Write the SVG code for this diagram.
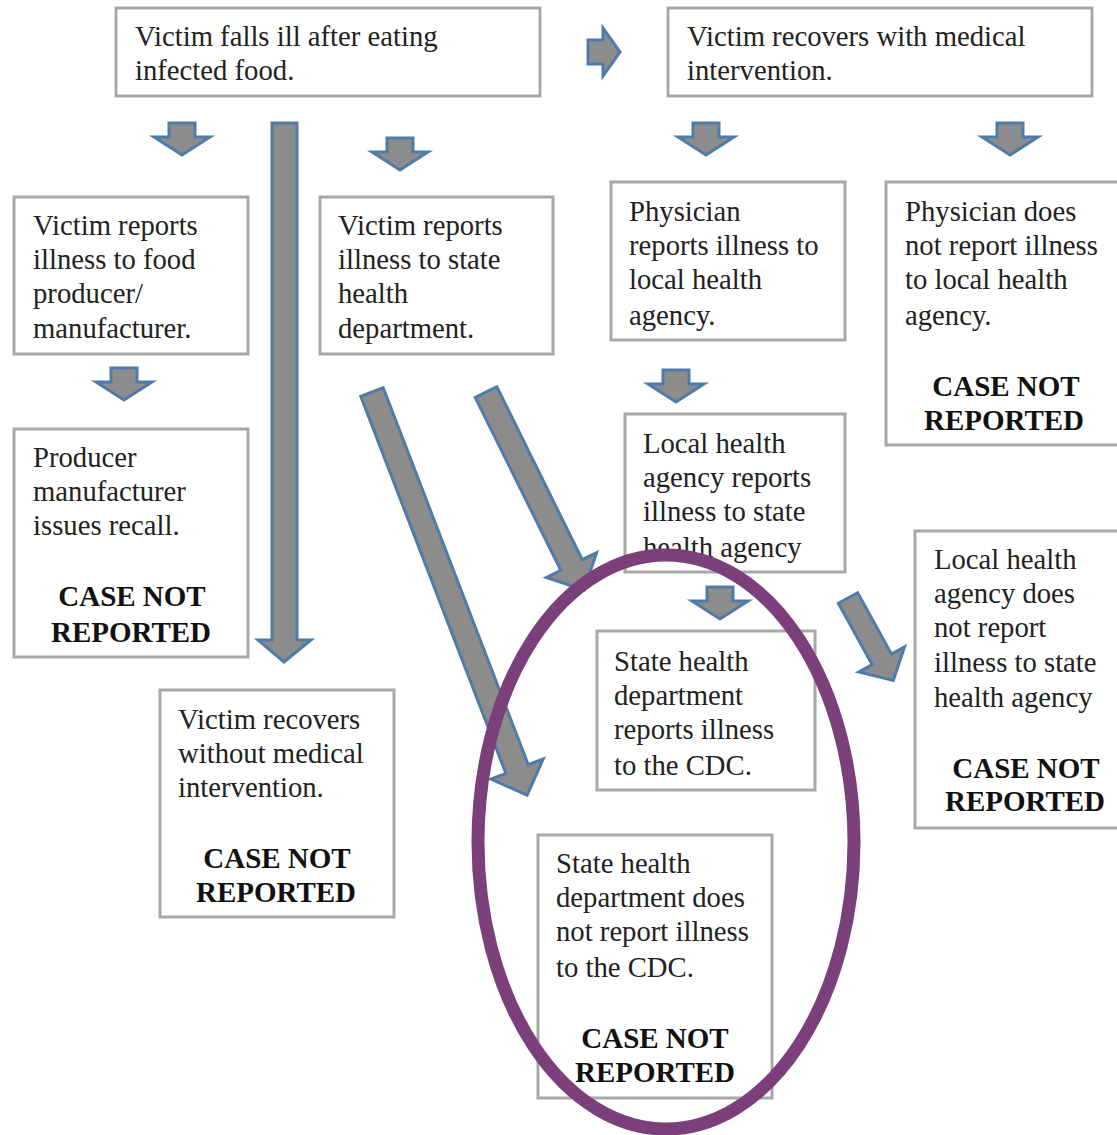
<svg xmlns="http://www.w3.org/2000/svg" width="1117" height="1135" viewBox="0 0 1117 1135">
<style>
.box{fill:#fff;stroke:#a8a8a8;stroke-width:3}
.t{font-family:'Liberation Serif','DejaVu Serif',serif;font-size:28.7px;fill:#222}
.b{font-family:'Liberation Serif','DejaVu Serif',serif;font-size:29px;font-weight:bold;fill:#111;text-anchor:middle}
.arr{fill:#8c8c8c;stroke:#4f7ba8;stroke-width:3;stroke-linejoin:miter}
.ring{fill:none;stroke:#7b3f7a;stroke-width:13}
</style>
<defs>
<path id="dn" d="M-13,0 H13 V14 H28 L0,32 L-28,14 H-13 Z"/>
</defs>
<rect width="1117" height="1135" fill="#fff"/>
<g id="connectors">
<use href="#dn" class="arr" x="182" y="123"/>
<use href="#dn" class="arr" x="400" y="138"/>
<use href="#dn" class="arr" x="706" y="123"/>
<use href="#dn" class="arr" x="1010" y="123"/>
<use href="#dn" class="arr" x="124" y="368"/>
<use href="#dn" class="arr" x="676" y="370"/>
<use href="#dn" class="arr" x="720" y="587"/>
<path class="arr" d="M588,40 H603 V28 L620,52 L603,76 V64 H588 Z"/>
<path class="arr" d="M272,123 H297 V640 H311 L284,662 L258,640 H272 Z"/>
<path class="arr" transform="translate(372,392) rotate(68.96)" d="M0,-12 H404 V-28 L432,0 L404,28 V12 H0 Z"/>
<path class="arr" transform="translate(486,392) rotate(63.7)" d="M0,-12 H193 V-28 L221,0 L193,28 V12 H0 Z"/>
<path class="arr" transform="translate(848,598) rotate(61.2)" d="M0,-11 H70 V-26 L94,0 L70,26 V11 H0 Z"/>
</g>
<g id="n1"><rect class="box" x="116" y="8" width="424" height="88"/>
<text class="t" x="135" y="46">Victim falls ill after eating</text><text class="t" x="135" y="80">infected food.</text></g>
<g id="n2"><rect class="box" x="668" y="8" width="424" height="88"/>
<text class="t" x="687" y="46">Victim recovers with medical</text><text class="t" x="687" y="80">intervention.</text></g>
<g id="n3"><rect class="box" x="14" y="197" width="234" height="157"/>
<text class="t" x="33" y="235">Victim reports</text><text class="t" x="33" y="269">illness to food</text><text class="t" x="33" y="303">producer/</text><text class="t" x="33" y="338">manufacturer.</text></g>
<g id="n4"><rect class="box" x="320" y="197" width="233" height="157"/>
<text class="t" x="338" y="235">Victim reports</text><text class="t" x="338" y="269">illness to state</text><text class="t" x="338" y="303">health</text><text class="t" x="338" y="338">department.</text></g>
<g id="n5"><rect class="box" x="611" y="182" width="234" height="158"/>
<text class="t" x="629" y="221">Physician</text><text class="t" x="629" y="255">reports illness to</text><text class="t" x="629" y="289">local health</text><text class="t" x="629" y="325">agency.</text></g>
<g id="n6"><rect class="box" x="886" y="182" width="233" height="263"/>
<text class="t" x="905" y="221">Physician does</text><text class="t" x="905" y="255">not report illness</text><text class="t" x="905" y="289">to local health</text><text class="t" x="905" y="325">agency.</text>
<text class="b" x="1006" y="396">CASE NOT</text><text class="b" x="1004" y="430">REPORTED</text></g>
<g id="n7"><rect class="box" x="14" y="429" width="234" height="228"/>
<text class="t" x="33" y="467">Producer</text><text class="t" x="33" y="501">manufacturer</text><text class="t" x="33" y="535">issues recall.</text>
<text class="b" x="132" y="606">CASE NOT</text><text class="b" x="131" y="642">REPORTED</text></g>
<g id="n8"><rect class="box" x="625" y="414" width="220" height="158"/>
<text class="t" x="643" y="453">Local health</text><text class="t" x="643" y="487">agency reports</text><text class="t" x="643" y="521">illness to state</text><text class="t" x="643" y="557">health agency</text></g>
<g id="n9"><rect class="box" x="915" y="531" width="204" height="297"/>
<text class="t" x="934" y="569">Local health</text><text class="t" x="934" y="603">agency does</text><text class="t" x="934" y="637">not report</text><text class="t" x="934" y="672">illness to state</text><text class="t" x="934" y="707">health agency</text>
<text class="b" x="1026" y="778">CASE NOT</text><text class="b" x="1025" y="811">REPORTED</text></g>
<g id="n10"><rect class="box" x="160" y="690" width="234" height="227"/>
<text class="t" x="178" y="729">Victim recovers</text><text class="t" x="178" y="763">without medical</text><text class="t" x="178" y="797">intervention.</text>
<text class="b" x="277" y="868">CASE NOT</text><text class="b" x="276" y="902">REPORTED</text></g>
<g id="n11"><rect class="box" x="597" y="631" width="218" height="159"/>
<text class="t" x="614" y="671">State health</text><text class="t" x="614" y="705">department</text><text class="t" x="614" y="739">reports illness</text><text class="t" x="614" y="775">to the CDC.</text></g>
<g id="n12"><rect class="box" x="538" y="835" width="234" height="263"/>
<text class="t" x="556" y="873">State health</text><text class="t" x="556" y="907">department does</text><text class="t" x="556" y="941">not report illness</text><text class="t" x="556" y="977">to the CDC.</text>
<text class="b" x="655" y="1048">CASE NOT</text><text class="b" x="655" y="1082">REPORTED</text></g>
<g id="highlight"><ellipse class="ring" cx="666" cy="842" rx="188" ry="287"/></g>
</svg>
